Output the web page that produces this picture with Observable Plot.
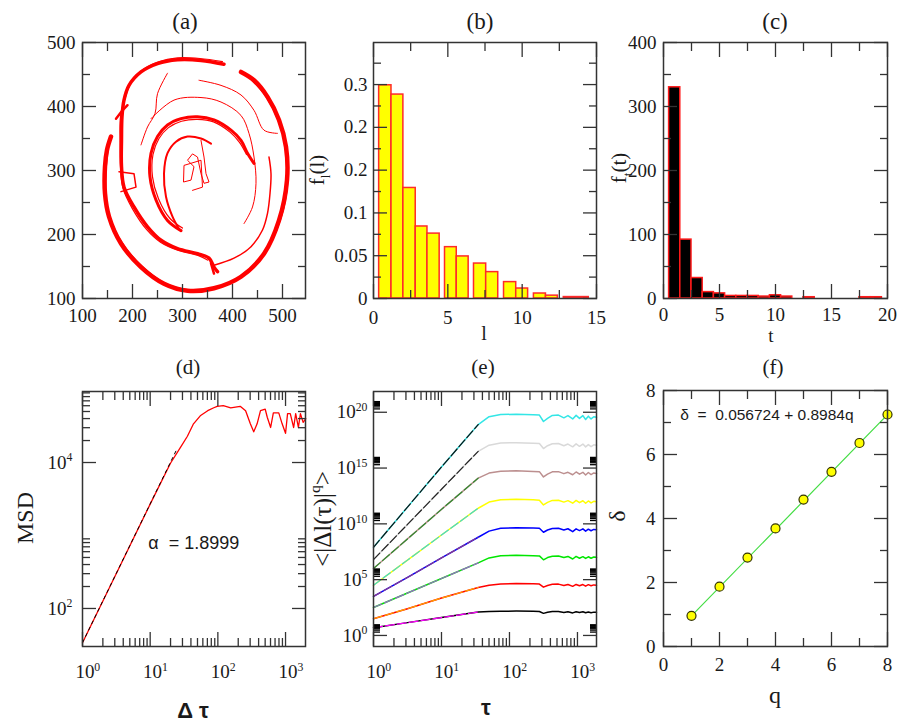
<!DOCTYPE html>
<html><head><meta charset="utf-8">
<script src="https://cdn.jsdelivr.net/npm/d3@7"></script>
<script src="https://cdn.jsdelivr.net/npm/@observablehq/plot@0.6"></script>
<style>
body{margin:0;background:#fff;}
#fig{position:relative;width:901px;height:722px;overflow:hidden;background:#fff;}
#fig svg{position:absolute;}
</style></head><body><div id="fig"></div>
<script>
// ---------------- DATA ----------------
// (a) trajectory pieces (x, y)
const aOuter = [[157,353],[149,332],[145,306],[145,264],[153,228],[177,186],[217,149],[263,123],[310,112],[363,116],[417,134],[463,170],[493,222],[509,285],[507,337],[493,379],[470,415],[443,441],[417,454]];
const aOuterB = [[152,340],[147,300],[148,250],[160,215],[185,180],[225,146],[270,122],[320,113],[370,117],[420,137],[465,173],[497,226],[511,290],[505,345],[488,385],[465,418],[440,440]];
const aRing2 = [[383,466],[337,472],[290,473],[250,467],[217,454],[193,433],[183,410],[179,384],[178,347],[178,306],[183,274],[203,243],[230,212],[257,191],[290,178],[330,170],[353,163],[363,149],[370,142]];
const aRing2B = [[380,470],[335,475],[290,476],[252,470],[220,457],[196,436],[185,412],[176,384],[175,347],[176,306],[181,272],[200,240],[228,208],[256,188],[292,175],[332,167],[350,160]];
const aRing2b = [[363,152],[403,163],[437,181],[460,207],[470,233],[475,264],[477,295],[473,321]];
const aRing3 = [[297,206],[270,222],[247,254],[235,290],[237,327],[250,353],[270,371],[297,381],[330,384],[363,379],[397,363],[417,347],[430,327],[443,311]];
const aRing3B = [[300,210],[275,225],[252,256],[240,290],[241,325],[253,350],[272,367],[298,377],[330,380],[362,376],[395,360],[414,344],[428,325]];
const aCurl = [[293,209],[280,228],[267,259],[263,295],[270,327],[287,345],[310,353],[337,350],[357,342]];
const aScribble = [[337,347],[343,321],[347,295],[353,282],[343,280],[337,295],[330,321],[320,326],[310,316],[323,306],[317,285],[302,282],[303,308],[337,316],[340,274],[320,269]];
const aThin1 = [[270,452],[250,420],[245,389],[230,368],[217,340]];
const aThin2 = [[333,441],[377,433],[417,418],[443,394],[463,363],[490,358]];
const aThin3 = [[237,381],[283,410],[337,414],[377,407],[417,386],[433,358],[443,321],[447,280],[440,243],[423,217]];
const aBranch = [[173,298],[203,295],[207,274],[177,267]];
const aBranch2 = [[167,381],[180,394],[190,402]];
const aBottom = [[357,155],[363,139]];

// (b) step-length histogram
const bX1 = [0.38,1.21,2.01,2.84,3.63,4.81,5.60,6.76,7.58,8.78,9.60,10.79,11.60,12.80];
const bX2 = [1.21,2.01,2.84,3.63,4.45,5.60,6.40,7.58,8.39,9.60,10.40,11.60,12.40,14.48];
const bF  = [0.299,0.286,0.155,0.101,0.091,0.072,0.059,0.049,0.037,0.023,0.014,0.007,0.004,0.002];
const bYTicks = [0,0.06,0.12,0.18,0.24,0.30];
const bYLabels = ["0","0.05","0.1","0.2","0.2","0.3"];

// (c) waiting-time histogram, bins centred on t
const cT = [1,2,3,4,5,6,7,8,9,10,11,12,13,14,15,16,17,18,19];
const cF = [330,92,32,10,8,4,4,4,3,5,3,0,2,0,0,0,0,2,2];

// (d) MSD (log10 values)
const dLogTau = [0,0.5,1.0,1.3,1.45,1.55,1.64,1.74,1.85,1.94,1.99,2.08,2.19,2.33,2.41,2.48,2.53,2.58,2.63,2.70,2.73,2.78,2.82,2.90,2.95,3.00,3.03,3.07,3.12,3.15,3.19,3.22,3.26,3.30];
const dLogMsd = [1.53,2.48,3.43,3.99,4.21,4.36,4.53,4.64,4.71,4.75,4.77,4.78,4.75,4.77,4.71,4.53,4.42,4.53,4.71,4.73,4.62,4.48,4.68,4.68,4.53,4.40,4.67,4.67,4.48,4.67,4.48,4.67,4.55,4.60];
const dFitTau = [1, 25];
const dFitMsd = [34, 15500];
const dAlphaText = "\u03b1  = 1.8999";
const dAlphaPos = [9.4, 776];

// (e) q-th moments (log10 values), q = 1..8
const eLogTau = [0,0.5,1.0,1.54,1.7,1.87,2.1,2.35,2.44,2.5,2.56,2.63,2.72,2.8,2.86,2.93,2.98,3.03,3.08,3.12,3.16,3.2,3.24,3.28];
const eQ1 = [0.7,1.15,1.6,2.1,2.15,2.17,2.18,2.17,2.15,1.98,2.08,2.14,2.15,2.06,2.12,2.02,2.12,2.05,2.12,2.03,2.1,2.04,2.09,2.08];
const eQ2 = [1.5,2.4,3.35,4.3,4.5,4.62,4.65,4.63,4.6,4.33,4.48,4.58,4.6,4.48,4.57,4.4,4.57,4.45,4.56,4.42,4.55,4.45,4.53,4.5];
const eQ3 = [2.5,3.8,5.1,6.5,6.95,7.15,7.18,7.15,7.13,6.78,6.98,7.1,7.12,6.98,7.08,6.85,7.08,6.92,7.06,6.9,7.05,6.92,7.03,7.0];
const eQ4 = [3.5,5.2,6.95,8.8,9.35,9.6,9.65,9.62,9.6,9.25,9.45,9.58,9.6,9.45,9.56,9.3,9.55,9.4,9.55,9.35,9.52,9.38,9.5,9.47];
const eQ5 = [4.5,6.75,9.0,11.4,11.95,12.15,12.2,12.15,12.12,11.7,11.92,12.1,12.12,11.95,12.08,11.85,12.1,11.9,12.07,11.85,12.05,11.88,12.02,11.98];
const eQ6 = [6.0,8.65,11.3,14.1,14.55,14.72,14.75,14.7,14.68,14.2,14.45,14.66,14.68,14.5,14.62,14.4,14.65,14.45,14.62,14.38,14.6,14.42,14.56,14.52];
const eQ7 = [6.8,9.95,13.1,16.5,17.05,17.25,17.27,17.22,17.2,16.75,17.0,17.18,17.2,17.0,17.15,16.9,17.17,16.95,17.15,16.9,17.1,16.92,17.08,17.05];
const eQ8 = [7.9,11.5,15.1,18.9,19.6,19.8,19.82,19.78,19.75,19.17,19.45,19.72,19.75,19.5,19.7,19.4,19.72,19.45,19.7,19.35,19.65,19.4,19.6,19.55];
const eFitPoints = 4; // fitted power-law section: first 4 samples (tau <= ~35)

// (f) scaling exponents
const fQ = [1,2,3,4,5,6,7,8];
const fDelta = [0.96,1.87,2.78,3.69,4.59,5.46,6.36,7.25];
const fFitQ = [1, 8];
const fFitDelta = [0.955, 7.244];
const fEqText = "\u03b4  =  0.056724 + 0.8984q";
const fEqPos = [0.6, 7.22];

const panelTitles = ["(a)","(b)","(c)","(d)","(e)","(f)"];

// ---------------- STYLE / HELPERS ----------------
const FONT = '"Liberation Serif","Times New Roman",serif';
const SANS = '"Liberation Sans",Arial,sans-serif';
const INK = "#1a1a1a";
const LINE = "#333";
const TICKFONT = 19;
const fig = document.getElementById("fig");

function axes(o) {
  const t = {stroke: LINE, strokeWidth: 1.3, fill: "none", label: null};
  const M = 14, m = o.minor ?? 8, my = o.yMinorSize ?? m;
  const out = [];
  for (const a of ["bottom", "top"]) {
    out.push(Plot.axisX({...t, ticks: o.xMajor, anchor: a, tickSize: -M}));
    if (o.xMinor) out.push(Plot.axisX({...t, ticks: o.xMinor, anchor: a, tickSize: -m}));
  }
  for (const a of ["left", "right"]) {
    out.push(Plot.axisY({...t, ticks: o.yMajor, anchor: a, tickSize: -M}));
    if (o.yMinor) out.push(Plot.axisY({...t, ticks: o.yMinor, anchor: a, tickSize: -my, stroke: o.yMinorStroke ?? LINE}));
  }
  const txt = {tickSize: 0, label: null, fill: INK, fontFamily: FONT, fontSize: TICKFONT};
  out.push(Plot.axisX({...txt, ticks: o.xMajor, anchor: "bottom", tickPadding: o.xPad, tickFormat: o.xFmt}));
  out.push(Plot.axisY({...txt, ticks: o.yMajor, anchor: "left", tickPadding: o.yPad, tickFormat: o.yFmt}));
  out.push(Plot.frame({stroke: LINE, strokeWidth: 1.5}));
  return out;
}
const pow10 = d => "10^" + Math.round(Math.log10(d));
const logMinor = (exps, max) => exps.flatMap(k => [2,3,4,5,6,7,8,9].map(j => j * 10 ** k)).filter(v => v <= max);

function supify(svg) {
  svg.querySelectorAll("text").forEach(t => {
    const m = /^10\^(-?\d+)$/.exec(t.textContent.trim());
    if (!m) return;
    t.textContent = "10";
    const s = document.createElementNS("http://www.w3.org/2000/svg", "tspan");
    s.setAttribute("dy", "-0.62em");
    s.setAttribute("font-size", "0.62em");
    s.textContent = m[1];
    t.appendChild(s);
    if (t.closest('[aria-label="x-axis tick label"]')) t.setAttribute("dx", "0.28em");
  });
}

function panel({left, top, width, height, ml, mr, mt, mb, x, y, marks}) {
  const svg = Plot.plot({
    width, height, marginLeft: ml, marginRight: mr, marginTop: mt, marginBottom: mb,
    x, y, marks,
    style: `font-family: ${FONT}; font-size: ${TICKFONT}px; color: ${INK}; background: transparent; overflow: visible;`
  });
  svg.style.left = left + "px";
  svg.style.top = top + "px";
  fig.appendChild(svg);
  supify(svg);
  return svg;
}

// ---------------- (a) ----------------
const aPieces = [
  [aOuter, 4.5, "catmull-rom"], [aOuterB, 1.5, "catmull-rom"], [aRing2, 3.5, "catmull-rom"], [aRing2B, 1.2, "catmull-rom"],
  [aRing2b, 1.5, "catmull-rom"], [aRing3, 3, "catmull-rom"], [aRing3B, 1.2, "catmull-rom"], [aCurl, 2, "catmull-rom"],
  [aScribble, 1, "linear"], [aThin1, 1, "catmull-rom"], [aThin2, 1, "catmull-rom"], [aThin3, 1, "catmull-rom"],
  [aBranch, 1.5, "linear"], [aBranch2, 2.5, "linear"], [aBottom, 2.5, "linear"]
];
panel({left: 0, top: 0, width: 310, height: 340, ml: 82, mr: 5, mt: 42, mb: 42,
  x: {domain: [100, 546]}, y: {domain: [100, 500]},
  marks: [
    ...aPieces.map(([pts, w, c]) => Plot.line(pts, {x: d => d[0], y: d => d[1], stroke: "#ff0000", strokeWidth: w, curve: c})),
    ...axes({xMajor: [100,200,300,400,500], xMinor: [150,250,350,450], yMajor: [100,200,300,400,500], yMinor: [150,250,350,450], xPad: 10, yPad: 7})
  ]});

// ---------------- (b) ----------------
const bData = bF.map((f, i) => ({x1: bX1[i], x2: bX2[i], f}));
panel({left: 310, top: 0, width: 300, height: 340, ml: 63, mr: 14, mt: 42, mb: 42,
  x: {domain: [0, 15]}, y: {domain: [0, 0.359]},
  marks: [
    Plot.rect(bData, {x1: "x1", x2: "x2", y1: 0, y2: "f", fill: "#ffff00", stroke: "#ff2a2a", strokeWidth: 1.5}),
    ...axes({xMajor: [0,5,10,15], xMinor: [2.5,7.5,12.5], yMajor: bYTicks, yMinor: [0.03,0.09,0.15,0.21,0.27,0.33],
      xPad: 12, yPad: 6, yFmt: d => bYLabels[bYTicks.indexOf(d)]})
  ]});

// ---------------- (c) ----------------
const cData = cT.map((t, i) => ({x1: t - 0.5, x2: t + 0.5, f: cF[i]})).filter(d => d.f > 0);
panel({left: 610, top: 0, width: 291, height: 340, ml: 53, mr: 14, mt: 42, mb: 42,
  x: {domain: [0, 20]}, y: {domain: [0, 400]},
  marks: [
    Plot.rect(cData, {x1: "x1", x2: "x2", y1: 0, y2: "f", fill: "#000", stroke: "#ff1a1a", strokeWidth: 1.5}),
    ...axes({xMajor: [0,5,10,15,20], xMinor: [2.5,7.5,12.5,17.5], yMajor: [0,100,200,300,400], yMinor: [50,150,250,350], xPad: 9, yPad: 7})
  ]});

// ---------------- (d) ----------------
const dData = dLogTau.map((lt, i) => ({tau: 10 ** lt, msd: 10 ** dLogMsd[i]}));
const dFit = dFitTau.map((t, i) => ({tau: t, msd: dFitMsd[i]}));
panel({left: 0, top: 340, width: 310, height: 382, ml: 82, mr: 5, mt: 51, mb: 76,
  x: {type: "log", domain: [1, 10 ** 3.295]}, y: {type: "log", domain: [10 ** 1.479, 10 ** 4.973]},
  marks: [
    Plot.line(dData, {x: "tau", y: "msd", stroke: "#ff0000", strokeWidth: 1.3}),
    Plot.line(dFit, {x: "tau", y: "msd", stroke: "#000", strokeWidth: 1, strokeDasharray: "3,4"}),
    Plot.text([dAlphaText], {x: dAlphaPos[0], y: dAlphaPos[1], text: d => d, textAnchor: "start", fontFamily: SANS, fontSize: 18, fill: INK}),
    ...axes({xMajor: [1,10,100,1000], xMinor: logMinor([0,1,2,3], 1970), yMajor: [100, 10000], yMinor: logMinor([2,4], 93000),
      xPad: 18, yPad: 10, xFmt: pow10, yFmt: pow10})
  ]});

// ---------------- (e) ----------------
const eSeries = [eQ1, eQ2, eQ3, eQ4, eQ5, eQ6, eQ7, eQ8];
const eColors = ["#000000", "#ff0000", "#00e600", "#0000ff", "#ffff00", "#bc8f8f", "#d9d9d9", "#33e6e6"];
const eFitColors = ["#ff00ff", "#ffa500", "#9966cc", "#8b3a8b", "#40d8d0", "#2e8b2e", "#222222", "#111111"];
const eData = eSeries.flatMap((s, k) => s.map((v, i) => ({q: k + 1, tau: 10 ** eLogTau[i], m: 10 ** v, i})));
const eFit = eData.filter(d => d.i < eFitPoints);
panel({left: 310, top: 340, width: 300, height: 382, ml: 63, mr: 14, mt: 51, mb: 76,
  x: {type: "log", domain: [1, 10 ** 3.28]}, y: {type: "log", domain: [10 ** -0.99, 10 ** 21.86]},
  marks: [
    ...eSeries.map((s, k) => Plot.line(eData.filter(d => d.q === k + 1), {x: "tau", y: "m", stroke: eColors[k], strokeWidth: 1.5})),
    ...eSeries.map((s, k) => Plot.line(eFit.filter(d => d.q === k + 1), {x: "tau", y: "m", stroke: eFitColors[k], strokeWidth: 1.2, strokeDasharray: "9,3"})),
    ...axes({xMajor: [1,10,100,1000], xMinor: logMinor([0,1,2,3], 1900), yMajor: [1,1e5,1e10,1e15,1e20], yMinor: logMinor([0,5,10,15,20], 1e21), yMinorSize: 7, yMinorStroke: "#000",
      xPad: 18, yPad: 6, xFmt: pow10, yFmt: pow10})
  ]});

// ---------------- (f) ----------------
const fData = fQ.map((q, i) => ({q, d: fDelta[i]}));
const fFit = fFitQ.map((q, i) => ({q, d: fFitDelta[i]}));
panel({left: 610, top: 340, width: 291, height: 382, ml: 53, mr: 14, mt: 50, mb: 76,
  x: {domain: [0, 8]}, y: {domain: [0, 8]},
  marks: [
    Plot.line(fFit, {x: "q", y: "d", stroke: "#44dd44", strokeWidth: 1.2}),
    Plot.dot(fData, {x: "q", y: "d", r: 4.5, fill: "#ffff00", stroke: "#333300", strokeWidth: 1.2}),
    Plot.text([fEqText], {x: fEqPos[0], y: fEqPos[1], text: d => d, textAnchor: "start", fontFamily: SANS, fontSize: 15.5, fill: INK}),
    ...axes({xMajor: [0,2,4,6,8], xMinor: [1,3,5,7], yMajor: [0,2,4,6,8], yMinor: [1,3,5,7], xPad: 11, yPad: 8})
  ]});

// ---------------- titles & axis labels ----------------
const ov = d3.select(fig).append("svg").attr("width", 901).attr("height", 722)
  .style("left", "0px").style("top", "0px").style("pointer-events", "none");
function label({x, y, parts, size, family = FONT, weight = "normal", rotate = 0, anchor = "middle"}) {
  const t = ov.append("text")
    .attr("transform", `translate(${x},${y})${rotate ? ` rotate(${rotate})` : ""}`)
    .attr("text-anchor", anchor).attr("font-size", size).attr("font-family", family)
    .attr("font-weight", weight).attr("fill", INK);
  let off = 0;
  for (const [s, kind] of parts) {
    const target = kind === "sub" ? size * 0.28 : kind === "sup" ? -size * 0.45 : 0;
    const ts = t.append("tspan").text(s).attr("dy", target - off);
    if (kind) ts.attr("font-size", size * 0.62);
    off = target;
  }
}
const titleXY = [[185, 29], [480, 29], [775, 29], [188, 374], [483, 374], [773, 374]];
panelTitles.forEach((s, i) => label({x: titleXY[i][0], y: titleXY[i][1], parts: [[s]], size: i < 3 ? 23 : 21}));

label({x: 324, y: 170, rotate: -90, size: 21, parts: [["f"], ["l", "sub"], ["(l)"]]});
label({x: 626, y: 168, rotate: -90, size: 21, parts: [["f"], ["t", "sub"], ["(t)"]]});
label({x: 484, y: 340, size: 20, parts: [["l"]]});
label({x: 771, y: 342, size: 19, parts: [["t"]]});
label({x: 33, y: 518, rotate: -90, size: 24, parts: [["MSD"]]});
label({x: 193, y: 718, size: 22, family: SANS, weight: "bold", parts: [["\u0394 \u03c4"]]});
label({x: 331, y: 519, rotate: -90, size: 25, parts: [["<|\u0394l(\u03c4)|"], ["q", "sup"], [">"]]});
label({x: 486, y: 715, size: 22, family: SANS, weight: "bold", parts: [["\u03c4"]]});
label({x: 625, y: 516, rotate: -90, size: 24, parts: [["\u03b4"]]});
label({x: 775, y: 703, size: 24, parts: [["q"]]});
</script></body></html>
